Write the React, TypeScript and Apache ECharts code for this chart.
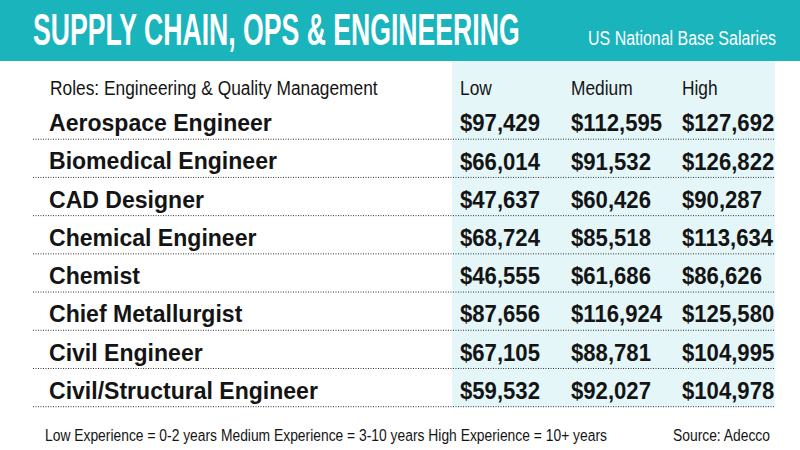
import React, { useEffect, useRef } from "react";
import * as echarts from "echarts";

const title = "SUPPLY CHAIN, OPS & ENGINEERING";
const subtitle = "US National Base Salaries";
const rolesHeader = "Roles: Engineering & Quality Management";
const columnHeaders = ["Low", "Medium", "High"];
const roles = [
  "Aerospace Engineer",
  "Biomedical Engineer",
  "CAD Designer",
  "Chemical Engineer",
  "Chemist",
  "Chief Metallurgist",
  "Civil Engineer",
  "Civil/Structural Engineer",
];
const low = [97429, 66014, 47637, 68724, 46555, 87656, 67105, 59532];
const medium = [112595, 91532, 60426, 85518, 61686, 116924, 88781, 92027];
const high = [127692, 126822, 90287, 113634, 86626, 125580, 104995, 104978];
const footnote =
  "Low Experience = 0-2 years Medium Experience = 3-10 years High Experience = 10+ years";
const source = "Source: Adecco";

const FAMILY = "'Liberation Sans', Arial, sans-serif";
const TEAL = "#1ab4bc";
const PALE = "#e5f6f9";
const INK = "#141414";
const COL_X = [459, 570, 681];

const fmt = (v: number) => "$" + v.toLocaleString("en-US");

let ctx: CanvasRenderingContext2D | null = null;
const measure = (text: string, weight: string, size: number) => {
  if (!ctx) ctx = document.createElement("canvas").getContext("2d");
  if (!ctx) return text.length * size * 0.5;
  ctx.font = `${weight} ${size}px ${FAMILY}`;
  return ctx.measureText(text).width;
};
// horizontal squeeze so that a sample text reaches the reference width
const fitScale = (text: string, weight: string, size: number, target: number) =>
  target / measure(text, weight, size);

export default function App() {
  const ref = useRef<HTMLDivElement>(null);
  useEffect(() => {
    if (!ref.current) return;
    const chart = echarts.init(ref.current, null, { renderer: "svg" });
    const data = roles.map((r, i) => [i, low[i], medium[i], high[i]]);

    const titleScale = fitScale(title, "bold", 44, 487);
    const subScale = fitScale(subtitle, "normal", 21, 188);
    const headScale = fitScale(rolesHeader, "normal", 21, 328);
    const rowScale = fitScale(roles[0], "bold", 24, 223);
    const valScale = fitScale(fmt(low[0]), "bold", 24, 80);
    const footScale = fitScale(footnote, "normal", 17, 562);

    const plain = (t: string, size: number, align = "left", fill = INK, weight = "normal") => ({
      text: t,
      fill,
      fontFamily: FAMILY,
      fontWeight: weight,
      fontSize: size,
      verticalAlign: "middle",
      align,
    });

    chart.setOption({
      animation: false,
      backgroundColor: "#ffffff",
      grid: { left: 33, right: 25, top: 101, bottom: 43.3 },
      xAxis: { type: "value", min: 0, max: 1, show: false },
      yAxis: {
        type: "category",
        data: roles,
        inverse: true,
        show: false,
      },
      graphic: [
        { type: "rect", z: -10, shape: { x: 0, y: 0, width: 800, height: 61 }, style: { fill: TEAL } },
        { type: "rect", z: -10, shape: { x: 452, y: 61, width: 323, height: 346 }, style: { fill: PALE } },
        { type: "text", x: 33, y: 30, scaleX: titleScale, style: plain(title, 44, "left", "#ffffff", "bold") },
        { type: "text", x: 776, y: 38, scaleX: subScale, style: plain(subtitle, 21, "right", "#ffffff") },
        { type: "text", x: 50, y: 88, scaleX: headScale, style: plain(rolesHeader, 21) },
        ...columnHeaders.map((h, j) => ({
          type: "text",
          x: COL_X[j] + 1,
          y: 88,
          scaleX: headScale,
          style: plain(h, 21),
        })),
        { type: "text", x: 45, y: 435, scaleX: footScale, style: plain(footnote, 17) },
        { type: "text", x: 770, y: 435, scaleX: footScale, style: plain(source, 17, "right") },
      ],
      series: [
        {
          type: "custom",
          coordinateSystem: "cartesian2d",
          encode: { y: 0 },
          data,
          renderItem: (params: any, api: any) => {
            const idx = api.value(0);
            const pt = api.coord([0, idx]);
            const h = api.size([0, 1])[1];
            const cs = params.coordSys;
            const cy = pt[1] + 3;
            const vals = [api.value(1), api.value(2), api.value(3)];
            return {
              type: "group",
              children: [
                {
                  type: "text",
                  x: cs.x + 16,
                  y: cy,
                  scaleX: rowScale,
                  style: plain(roles[idx], 24, "left", INK, "bold"),
                },
                ...vals.map((v: number, j: number) => ({
                  type: "text",
                  x: COL_X[j] + 1,
                  y: cy,
                  scaleX: valScale,
                  style: plain(fmt(v), 24, "left", INK, "bold"),
                })),
                {
                  type: "line",
                  shape: { x1: cs.x, y1: pt[1] + h / 2, x2: cs.x + cs.width, y2: pt[1] + h / 2 },
                  style: { stroke: "#333333", lineWidth: 1, lineDash: [1, 1.5] },
                },
              ],
            };
          },
        },
      ],
    });
    return () => chart.dispose();
  }, []);
  return <div ref={ref} style={{ width: 800, height: 450, position: "absolute", left: 0, top: 0 }} />;
}
